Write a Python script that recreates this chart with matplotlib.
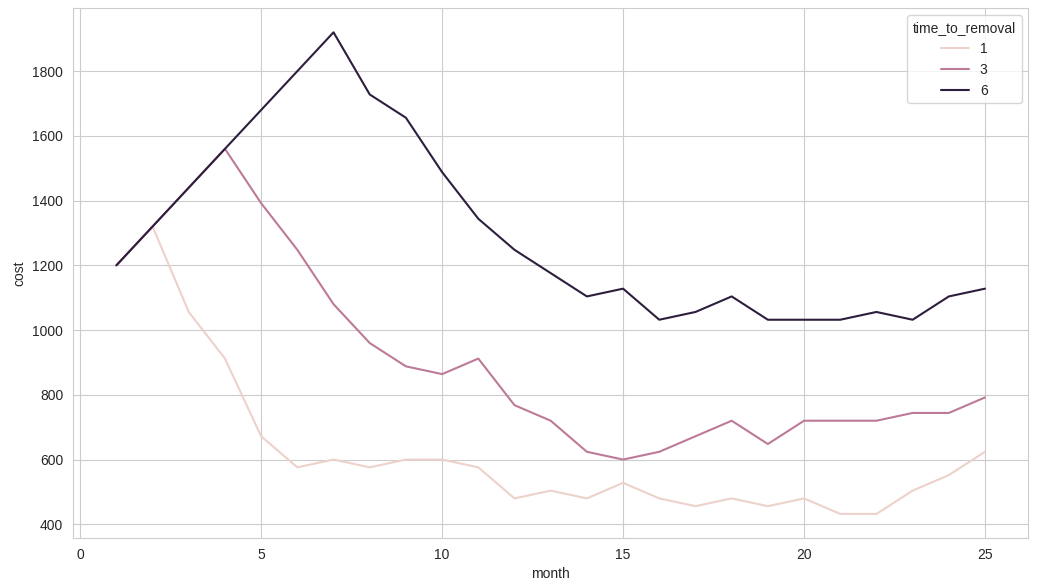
import matplotlib
matplotlib.use("Agg")
import matplotlib.pyplot as plt
import pandas as pd
import seaborn as sns

months = list(range(1, 26))

# cost per month for each time_to_removal
cost_1 = [1200, 1320, 1056, 912, 672, 576, 600, 576, 600, 600, 576, 480, 504,
          480, 528, 480, 456, 480, 456, 480, 432, 432, 504, 552, 624]
cost_3 = [1200, 1320, 1440, 1560, 1392, 1248, 1080, 960, 888, 864, 912, 768, 720,
          624, 600, 624, 672, 720, 648, 720, 720, 720, 744, 744, 792]
cost_6 = [1200, 1320, 1440, 1560, 1680, 1800, 1920, 1728, 1656, 1488, 1344, 1248, 1176,
          1104, 1128, 1032, 1056, 1104, 1032, 1032, 1032, 1056, 1032, 1104, 1128]

removal_times = [1, 3, 6]

frames = []
for t, c in zip(removal_times, [cost_1, cost_3, cost_6]):
    frames.append(pd.DataFrame({"month": months, "cost": c, "time_to_removal": t}))
df = pd.concat(frames, ignore_index=True)

sns.set_style("whitegrid")
plt.rcParams["font.family"] = ["Liberation Sans", "DejaVu Sans"]

fig, ax = plt.subplots(figsize=(10.42, 5.88), dpi=100)
fig.subplots_adjust(left=0.070, right=0.987, top=0.986, bottom=0.085)

sns.lineplot(data=df, x="month", y="cost", hue="time_to_removal", ax=ax)

plt.savefig("out.png")
